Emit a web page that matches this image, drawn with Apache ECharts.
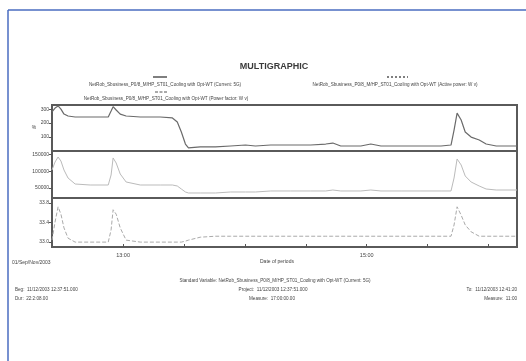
<!DOCTYPE html>
<html><head><meta charset="utf-8">
<script src="https://cdn.jsdelivr.net/npm/echarts@6/dist/echarts.min.js"></script>
<style>html,body{margin:0;padding:0;background:#fff}#c{width:526px;height:361px}</style>
</head><body><div id="c"></div>
<script>
// time in minutes after 12:00
const times = [25,26.5,28,29.4,30.9,32.9,36.4,43.8,52.7,54.1,55.1,56.6,58.6,61.5,68.5,78.3,84.3,86.7,88.7,90.7,92.2,98,105.5,112.9,120.3,125.2,132.7,142.5,152.4,159.8,163.3,167.2,177.1,182,187,196.9,206.7,216.6,221.5,223,224.5,226.5,228.5,231.4,235.4,238.8,243.8,254];
const powerFactor = [280,308,323,300,265,251,244,244,244,287,318,294,265,251,244,244,237,208,136,50,22,29,29,36,43,36,43,43,43,50,57,36,36,50,36,36,36,36,43,150,272,222,136,100,79,50,36,36];
const activePower = [103400,127200,142100,130200,103400,79600,61700,58700,58700,88500,139200,124300,91500,67700,58700,58700,58700,55700,46800,37900,34900,34900,34900,37900,37900,37900,40900,40900,40900,40900,43800,40900,40900,43800,40900,40900,40900,40900,40900,79600,136200,118300,85500,67700,55700,46800,43800,43800];
const current = [33.04,33.41,33.72,33.57,33.29,33.08,33.0,33.0,33.0,33.25,33.66,33.57,33.29,33.04,33.0,33.0,33.0,33.0,33.0,33.02,33.04,33.10,33.12,33.12,33.12,33.12,33.12,33.12,33.12,33.12,33.12,33.12,33.12,33.12,33.12,33.12,33.12,33.12,33.12,33.35,33.72,33.55,33.35,33.21,33.12,33.12,33.12,33.12];
const xTickValues = [60,90,120,150,180,210,240];
const xLabelValues = [60,180];
const yTicksTop = [100,200,300];
const yTicksMid = [50000,100000,150000];
const yTicksBot = [33.0,33.4,33.8];
const title = 'MULTIGRAPHIC';
const legendNames = [
  'NetRob_Sbusiness_P0/8_M/HP_ST01_Cooling with Opt-WT (Current: 5G)',
  'NetRob_Sbusiness_P0/8_M/HP_ST01_Cooling with Opt-WT (Active power: W v)',
  'NetRob_Sbusiness_P0/8_M/HP_ST01_Cooling with Opt-WT (Power factor: W v)'
];

const F = 'Liberation Sans, Arial, sans-serif';
const fmtTime = m => { const h = 12 + Math.floor(m/60); const mm = Math.round(m%60); return h + ':' + (mm<10?'0':'') + mm; };
const pair = (vals) => times.map((t,i)=>[t, vals[i]]);

const L = 52, W = 465;
const grids = [
  {left:L, top:105, width:W, height:46},
  {left:L, top:151, width:W, height:47},
  {left:L, top:198, width:W, height:49}
].map(g=>Object.assign(g,{show:true, borderColor:'#5a5a5a', borderWidth:2, backgroundColor:'transparent'}));

const xAxes = [0,1,2].map(i=>({
  type:'value', gridIndex:i, min:25, max:254, show: i===2,
  splitLine:{show:false},
  axisLine:{show:true, lineStyle:{color:'#5a5a5a', width:2}},
  axisTick:{show:true, inside:true, length:3, customValues:xTickValues, lineStyle:{color:'#555'}},
  axisLabel:{show:true, customValues:xLabelValues, formatter:v=>fmtTime(v), fontSize:5.5, color:'#444', fontFamily:F, margin:5}
}));

function yAxis(i, min, max, ticks, fmt){
  return {type:'value', gridIndex:i, min, max,
    splitLine:{show:false},
    axisLine:{show:true, lineStyle:{color:'#5a5a5a', width:1.5}},
    axisTick:{show:true, length:3, customValues:ticks, lineStyle:{color:'#555'}},
    axisLabel:{customValues:ticks, fontSize:5, color:'#444', fontFamily:F, margin:3, formatter:fmt}};
}
const yAxes = [
  yAxis(0, 0, 330, yTicksTop, v=>String(v)),
  yAxis(1, 20000, 160000, yTicksMid, v=>String(v)),
  yAxis(2, 32.9, 33.9, yTicksBot, v=>v.toFixed(1))
];

const txt = (x,y,s,opt={}) => ({type:'text', x, y, style:Object.assign({text:s, fill:'#444', font:'5px '+F, textAlign:'left', textVerticalAlign:'middle'}, opt)});
const ln = (x1,y1,x2,y2,st) => ({type:'line', shape:{x1,y1,x2,y2}, style:st});

const chart = echarts.init(document.getElementById('c'), null, {renderer:'canvas'});
chart.setOption({
  animation:false,
  backgroundColor:'#fff',
  grid:grids, xAxis:xAxes, yAxis:yAxes,
  series:[
    {type:'line', xAxisIndex:0, yAxisIndex:0, data:pair(powerFactor), showSymbol:false, lineStyle:{color:'#6a6a6a', width:1.2}},
    {type:'line', xAxisIndex:1, yAxisIndex:1, data:pair(activePower), showSymbol:false, lineStyle:{color:'#bbb', width:1}},
    {type:'line', xAxisIndex:2, yAxisIndex:2, data:pair(current), showSymbol:false, lineStyle:{color:'#aaa', width:1, type:[4,2]}}
  ],
  graphic:[
    ln(8,10,526,10,{stroke:'#4a6cc0', lineWidth:1.5}),
    ln(8,10,8,361,{stroke:'#4a6cc0', lineWidth:1.5}),
    txt(274,67,title,{font:'bold 9px '+F, fill:'#3a3a3a', textAlign:'center'}),
    ln(153,77,167,77,{stroke:'#555', lineWidth:1.5}),
    txt(165,85,legendNames[0],{textAlign:'center', font:'4.6px '+F}),
    ln(387,77,408,77,{stroke:'#555', lineWidth:1.5, lineDash:[2,2]}),
    txt(395,85,legendNames[1],{textAlign:'center', font:'4.6px '+F}),
    ln(155,92,168,92,{stroke:'#555', lineWidth:1, lineDash:[3,1.5]}),
    txt(166,99,legendNames[2],{textAlign:'center', font:'4.6px '+F}),
    txt(34,128,'%',{textAlign:'center', font:'5px '+F}),
    txt(12,263,'01/Sep/Nov/2003',{font:'5px '+F}),
    txt(260,262,'Date of periods',{font:'5px '+F}),
    txt(275,281,'Standard Variable: NetRob_Sbusiness_P0/8_M/HP_ST01_Cooling with Opt-WT (Current: 5G)',{textAlign:'center', font:'4.6px '+F}),
    txt(15,290,'Beg:  11/12/2003 12:37:51.000',{font:'4.6px '+F}),
    txt(273,290,'Project:  11/12/2003 12:37:51.000',{textAlign:'center', font:'4.6px '+F}),
    txt(517,290,'To:  11/12/2003 12:41:20',{textAlign:'right', font:'4.6px '+F}),
    txt(15,299,'Dur:  22:2:08.00',{font:'4.6px '+F}),
    txt(272,299,'Measure:  17:00:00.00',{textAlign:'center', font:'4.6px '+F}),
    txt(517,299,'Measure:  11:00',{textAlign:'right', font:'4.6px '+F})
  ]
});
</script></body></html>
